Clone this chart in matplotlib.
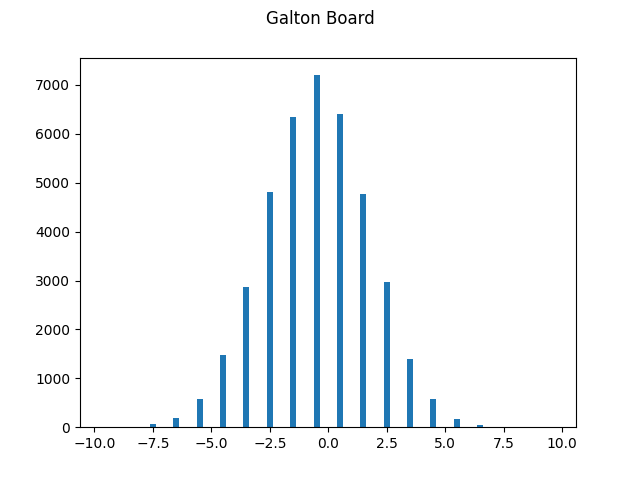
import matplotlib
matplotlib.use('Agg')
import matplotlib.pyplot as plt
import numpy as np

# Final slot positions of the balls and how many landed in each
positions = [-7.5, -6.5, -5.5, -4.5, -3.5, -2.5, -1.5, -0.5,
             0.5, 1.5, 2.5, 3.5, 4.5, 5.5, 6.5]
counts = [65, 190, 578, 1480, 2865, 4805, 6340, 7200,
          6400, 4765, 2965, 1395, 578, 170, 47]

fig, ax = plt.subplots(figsize=(6.4, 4.8), dpi=100)
ax.bar(positions, counts, width=0.26)
ax.set_xlim(-10.62, 10.6)
ax.set_xticks(np.arange(-10, 10.1, 2.5))
fig.suptitle('Galton Board')
fig.savefig('out.png')
